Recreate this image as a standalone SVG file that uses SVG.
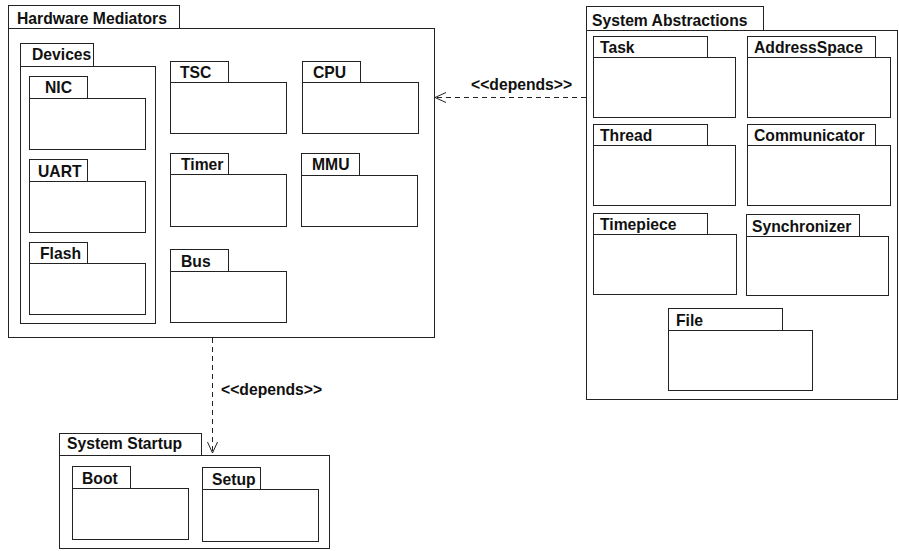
<svg xmlns="http://www.w3.org/2000/svg" width="899" height="551" viewBox="0 0 899 551">
  <style>
    .box { fill: #ffffff; stroke: #222222; stroke-width: 1; }
    .lbl { font-family: "Liberation Sans", Arial, sans-serif; font-weight: bold; font-size: 15.7px; fill: #111111; }
    .dep { fill: none; stroke: #222222; stroke-width: 1; stroke-dasharray: 5 4; }
    .head { fill: none; stroke: #222222; stroke-width: 1; }
  </style>
  <rect width="899" height="551" fill="#ffffff"/>

  <!-- Hardware Mediators package -->
  <g id="hardware-mediators">
    <rect class="box" x="8.5" y="5.5" width="171" height="23"/>
    <rect class="box" x="8.5" y="28.5" width="426" height="309"/>
    <text class="lbl" x="17" y="24">Hardware Mediators</text>
  </g>
  <g id="devices">
    <rect class="box" x="20.5" y="43.5" width="73" height="23"/>
    <rect class="box" x="20.5" y="66.5" width="135" height="257"/>
    <text class="lbl" x="32" y="60">Devices</text>
  </g>
  <g id="nic">
    <rect class="box" x="29.5" y="76.5" width="58" height="22"/>
    <rect class="box" x="29.5" y="98.5" width="116" height="51"/>
    <text class="lbl" x="45" y="93">NIC</text>
  </g>
  <g id="uart">
    <rect class="box" x="29.5" y="159.5" width="58" height="22"/>
    <rect class="box" x="29.5" y="181.5" width="116" height="51"/>
    <text class="lbl" x="38" y="177">UART</text>
  </g>
  <g id="flash">
    <rect class="box" x="29.5" y="242.5" width="58" height="21"/>
    <rect class="box" x="29.5" y="263.5" width="116" height="51"/>
    <text class="lbl" x="40" y="259">Flash</text>
  </g>
  <g id="tsc">
    <rect class="box" x="170.5" y="61.5" width="58" height="21"/>
    <rect class="box" x="170.5" y="82.5" width="116" height="51"/>
    <text class="lbl" x="180" y="78">TSC</text>
  </g>
  <g id="timer">
    <rect class="box" x="170.5" y="153.5" width="58" height="21"/>
    <rect class="box" x="170.5" y="174.5" width="116" height="52"/>
    <text class="lbl" x="181" y="170">Timer</text>
  </g>
  <g id="bus">
    <rect class="box" x="170.5" y="249.5" width="58" height="22"/>
    <rect class="box" x="170.5" y="271.5" width="116" height="51"/>
    <text class="lbl" x="181" y="267">Bus</text>
  </g>
  <g id="cpu">
    <rect class="box" x="302.5" y="61.5" width="58" height="21"/>
    <rect class="box" x="302.5" y="82.5" width="116" height="51"/>
    <text class="lbl" x="313" y="78">CPU</text>
  </g>
  <g id="mmu">
    <rect class="box" x="301.5" y="153.5" width="58" height="22"/>
    <rect class="box" x="301.5" y="175.5" width="116" height="51"/>
    <text class="lbl" x="312" y="170">MMU</text>
  </g>

  <!-- System Abstractions package -->
  <g id="system-abstractions">
    <rect class="box" x="586.5" y="6.5" width="177" height="24"/>
    <rect class="box" x="586.5" y="30.5" width="311" height="369"/>
    <text class="lbl" x="592" y="26">System Abstractions</text>
  </g>
  <g id="task">
    <rect class="box" x="593.5" y="36.5" width="114" height="21"/>
    <rect class="box" x="593.5" y="57.5" width="142" height="60"/>
    <text class="lbl" x="600" y="53">Task</text>
  </g>
  <g id="address-space">
    <rect class="box" x="747.5" y="36.5" width="128" height="21"/>
    <rect class="box" x="747.5" y="57.5" width="143" height="60"/>
    <text class="lbl" x="754" y="53">AddressSpace</text>
  </g>
  <g id="thread">
    <rect class="box" x="593.5" y="124.5" width="114" height="21"/>
    <rect class="box" x="593.5" y="145.5" width="142" height="60"/>
    <text class="lbl" x="600" y="141">Thread</text>
  </g>
  <g id="communicator">
    <rect class="box" x="747.5" y="124.5" width="128" height="21"/>
    <rect class="box" x="747.5" y="145.5" width="143" height="60"/>
    <text class="lbl" x="754" y="141">Communicator</text>
  </g>
  <g id="timepiece">
    <rect class="box" x="593.5" y="213.5" width="114" height="21"/>
    <rect class="box" x="593.5" y="234.5" width="143" height="60"/>
    <text class="lbl" x="600" y="230">Timepiece</text>
  </g>
  <g id="synchronizer">
    <rect class="box" x="746.5" y="214.5" width="113" height="22"/>
    <rect class="box" x="746.5" y="236.5" width="142" height="59"/>
    <text class="lbl" x="752" y="232">Synchronizer</text>
  </g>
  <g id="file">
    <rect class="box" x="668.5" y="308.5" width="114" height="22"/>
    <rect class="box" x="668.5" y="330.5" width="144" height="60"/>
    <text class="lbl" x="676" y="326">File</text>
  </g>

  <!-- System Startup package -->
  <g id="system-startup">
    <rect class="box" x="59.5" y="433.5" width="142" height="22"/>
    <rect class="box" x="59.5" y="455.5" width="270" height="93"/>
    <text class="lbl" x="67" y="449">System Startup</text>
  </g>
  <g id="boot">
    <rect class="box" x="72.5" y="466.5" width="58" height="22"/>
    <rect class="box" x="72.5" y="488.5" width="116" height="51"/>
    <text class="lbl" x="82" y="484">Boot</text>
  </g>
  <g id="setup">
    <rect class="box" x="202.5" y="467.5" width="58" height="22"/>
    <rect class="box" x="202.5" y="489.5" width="116" height="52"/>
    <text class="lbl" x="212" y="485">Setup</text>
  </g>

  <!-- Dependency connectors -->
  <g id="connectors">
    <g id="abstractions-to-hardware">
      <line class="dep" x1="586" y1="97.5" x2="436" y2="97.5"/>
      <polyline class="head" points="446,92.5 435,97.5 446,102.5"/>
      <text class="lbl" x="471" y="90">&lt;&lt;depends&gt;&gt;</text>
    </g>
    <g id="hardware-to-startup">
      <line class="dep" x1="212.5" y1="338" x2="212.5" y2="452"/>
      <polyline class="head" points="207.5,442 212.5,453 217.5,442"/>
      <text class="lbl" x="221" y="395">&lt;&lt;depends&gt;&gt;</text>
    </g>
  </g>
</svg>
